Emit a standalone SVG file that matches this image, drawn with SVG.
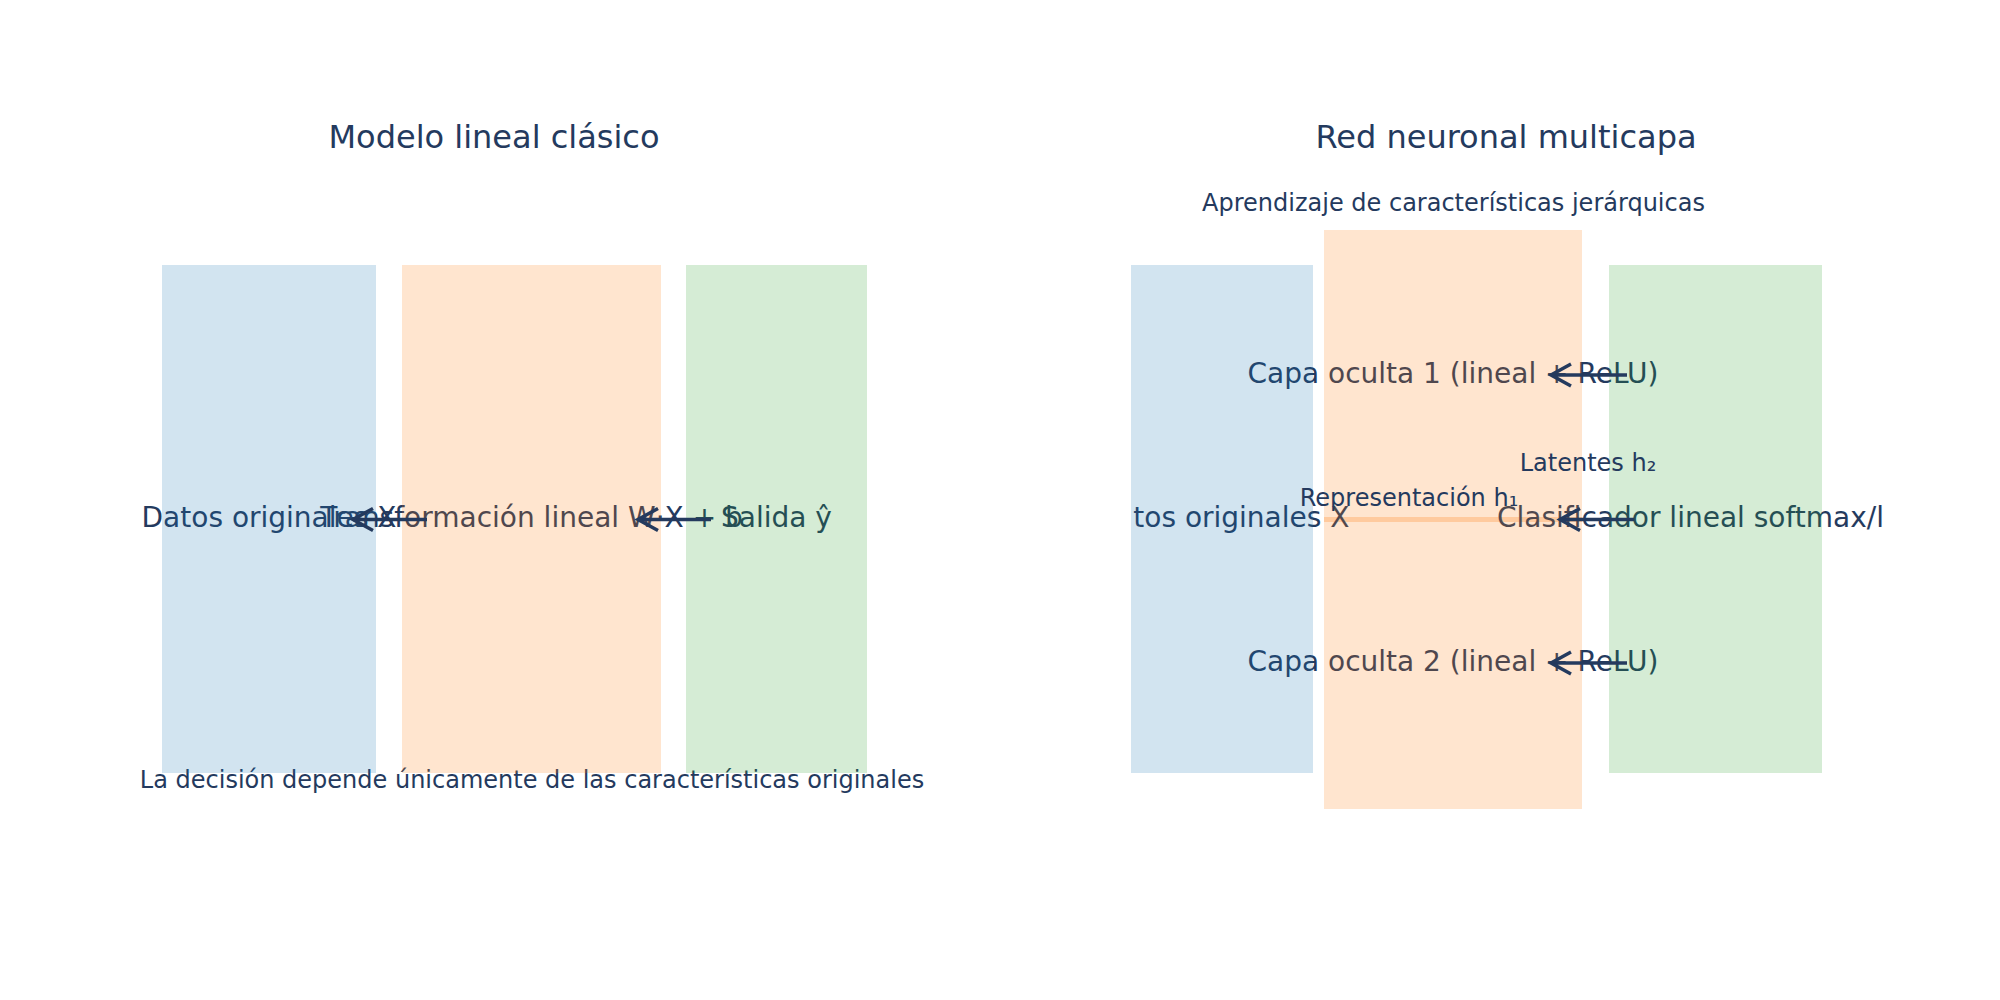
<svg xmlns="http://www.w3.org/2000/svg" width="2000" height="1000" viewBox="0 0 2000 1000">
  <defs>
    <style>
      text { font-family: "DejaVu Sans", "Noto Sans", sans-serif; }
      .title { font-size: 32px; fill: #243a5e; text-anchor: middle; }
      .note { font-size: 24px; fill: #243a5e; text-anchor: middle; }
      .lbl { font-size: 28px; fill: #243a5e; }
      .inkR { fill: url(#inkR); }
      .mid { text-anchor: middle; }
      .blue { fill: #1f77b4; fill-opacity: 0.2; }
      .orange { fill: #ff7f0e; fill-opacity: 0.2; }
      .green { fill: #2ca02c; fill-opacity: 0.2; }
      .arrow { stroke: #243a5e; stroke-width: 3.5; fill: none; marker-end: url(#head); }
    </style>
    <linearGradient id="inkR" gradientUnits="userSpaceOnUse" x1="0" y1="0" x2="2000" y2="0">
      <stop offset="0" stop-color="#243a5e"/>
      <stop offset="0.662" stop-color="#243a5e"/>
      <stop offset="0.662" stop-color="#50484e"/>
      <stop offset="0.791" stop-color="#50484e"/>
      <stop offset="0.791" stop-color="#243a5e"/>
      <stop offset="1" stop-color="#243a5e"/>
    </linearGradient>
    <marker id="head" viewBox="-26 -15 30 30" refX="0" refY="0" markerWidth="30" markerHeight="30" markerUnits="userSpaceOnUse" orient="auto">
      <path d="M-20,-11 L0,0 L-20,11" stroke="#243a5e" stroke-width="3.5" fill="none" stroke-linejoin="miter"/>
    </marker>
  </defs>

  <rect x="0" y="0" width="2000" height="1000" fill="#ffffff"/>

  <!-- titles and notes -->
  <text class="title" x="494" y="148">Modelo lineal clásico</text>
  <text class="title" x="1506" y="148">Red neuronal multicapa</text>
  <text class="note" x="1453.5" y="211">Aprendizaje de características jerárquicas</text>
  <text class="note" x="532" y="788">La decisión depende únicamente de las características originales</text>

  <!-- left panel nodes (text drawn under translucent boxes) -->
  <g id="lin-transform">
    <text class="lbl mid" x="531.5" y="527">Transformación lineal W·X + b</text>
    <rect class="orange" x="402" y="265" width="259" height="508"/>
  </g>
  <g id="lin-input">
    <text class="lbl mid" x="269" y="527">Datos originales X</text>
    <rect class="blue" x="162" y="265" width="214" height="508"/>
  </g>
  <g id="lin-output">
    <text class="lbl mid" x="776.5" y="527">Salida ŷ</text>
    <rect class="green" x="686" y="265" width="181" height="508"/>
  </g>

  <!-- right panel nodes -->
  <g id="mlp-hidden">
    <line x1="1324" y1="519.5" x2="1582" y2="519.5" stroke="#ffdec2" stroke-width="5"/>
    <text class="lbl mid" x="1453" y="382.5">Capa oculta 1 (lineal + ReLU)</text>
    <text class="lbl mid" x="1453" y="670.5">Capa oculta 2 (lineal + ReLU)</text>
    <rect class="orange" x="1324" y="230" width="258" height="579"/>
  </g>
  <g id="mlp-input">
    <text class="lbl inkR" x="1133.3" y="527">tos originales X</text>
    <rect class="blue" x="1131" y="265" width="182" height="508"/>
  </g>
  <g id="mlp-output">
    <text class="lbl inkR" x="1497" y="527">Clasificador lineal softmax/l</text>
    <rect class="green" x="1609" y="265" width="213" height="508"/>
  </g>

  <!-- connectors -->
  <g id="connectors">
    <line class="arrow" x1="427" y1="519.5" x2="353" y2="519.5"/>
    <line class="arrow" x1="711" y1="519.5" x2="638" y2="519.5"/>
    <line class="arrow" x1="1627" y1="375" x2="1551" y2="375"/>
    <line class="arrow" x1="1634" y1="519.5" x2="1560" y2="519.5"/>
    <line class="arrow" x1="1627" y1="663" x2="1551" y2="663"/>
    <text class="note" x="1409" y="505.5">Representación h₁</text>
    <text class="note" x="1588" y="471">Latentes h₂</text>
  </g>
</svg>
